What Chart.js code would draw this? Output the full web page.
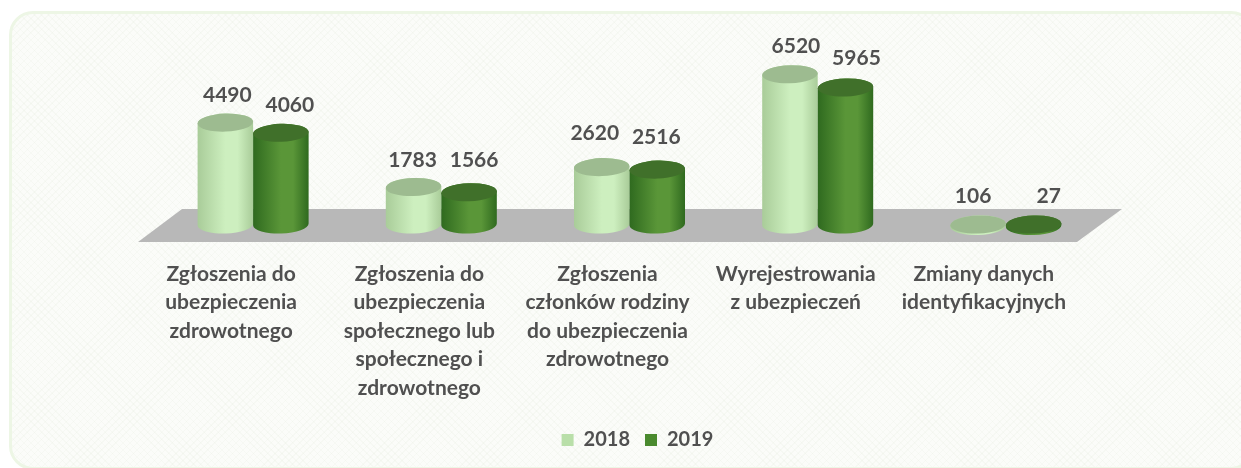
<!DOCTYPE html>
<html lang="pl">
<head>
<meta charset="utf-8">
<title>Zgłoszenia do ubezpieczenia</title>
<script src="https://cdn.jsdelivr.net/npm/chart.js@4"></script>
<style>
html,body{margin:0;padding:0;background:#fff;overflow:hidden}
#wrap{position:relative;width:1241px;height:468px;overflow:hidden}
#panel{position:absolute;left:9px;top:11px;width:1240px;height:453px;border:3px solid #edf6e5;border-radius:24px;
background-color:#fbfcf9;
background-image:repeating-linear-gradient(45deg,rgba(215,225,205,.13) 0 1px,transparent 1px 5px),repeating-linear-gradient(-45deg,rgba(215,225,205,.13) 0 1px,transparent 1px 5px)}
canvas{position:absolute;left:0;top:0;filter:blur(.45px)}
</style>
</head>
<body>
<div id="wrap"><div id="panel"></div><canvas id="c" width="1241" height="468"></canvas></div>
<script>
const categories = [
  ["Zgłoszenia do","ubezpieczenia","zdrowotnego"],
  ["Zgłoszenia do","ubezpieczenia","społecznego lub","społecznego i","zdrowotnego"],
  ["Zgłoszenia","członków rodziny","do ubezpieczenia","zdrowotnego"],
  ["Wyrejestrowania","z ubezpieczeń"],
  ["Zmiany danych","identyfikacyjnych"]
];
const values2018 = [4490, 1783, 2620, 6520, 106];
const values2019 = [4060, 1566, 2516, 5965, 27];
const seriesNames = ["2018", "2019"];
const legendColors = ["#b9dfa9", "#4a8a2e"];
const sideEdge = ["#a9cc99", "#2f6a1f"];
const sideMid = ["#cdefbf", "#5a9638"];
const topColors = ["#9dbb90", "#40702a"];
const textColor = "#505050";
const floorColor = "#b8b8b8";
const fontFamily = "Lato, 'Open Sans', sans-serif";

const ELLIPSE_RY = 9, TILT = -0.035, FOOT = 5;
const labelLift = [[27, 27, 34, 28, 28], [28, 32, 32, 29, 28]];
const labelShift = [[2, -1, -7, 6, -5], [9, 5, -1, 11, 15]];
const discY = (y, base) => Math.min(y, base - FOOT);

Chart.BarElement.prototype.draw = function (ctx) {
  const {x, y: rawY, base: rawBase, width} = this.getProps(["x", "y", "base", "width"]);
  const s = this.options.backgroundColor === legendColors[0] ? 0 : 1;
  const rx = width / 2;
  const base = rawBase - FOOT, y = discY(rawY, rawBase);
  const g = ctx.createLinearGradient(x - rx, 0, x + rx, 0);
  g.addColorStop(0, sideEdge[s]);
  g.addColorStop(0.5, sideMid[s]);
  g.addColorStop(0.72, sideMid[s]);
  g.addColorStop(1, sideEdge[s]);
  ctx.save();
  ctx.fillStyle = g;
  ctx.beginPath();
  ctx.ellipse(x, base + (y >= base ? 1.5 : 0), rx, ELLIPSE_RY, TILT, Math.PI, 0, true);
  ctx.lineTo(x + rx, y);
  ctx.ellipse(x, y, rx, ELLIPSE_RY, TILT, 0, Math.PI, true);
  ctx.closePath();
  ctx.fill();
  ctx.fillStyle = topColors[s];
  ctx.beginPath();
  ctx.ellipse(x, y, rx, ELLIPSE_RY, TILT, 0, Math.PI * 2);
  ctx.fill();
  ctx.restore();
};

const cylinderScene = {
  id: "cylinderScene",
  afterLayout(chart) {
    const l = chart.legend;
    l.left += 8; l.right += 8;
  },
  beforeDatasetsDraw(chart) {
    const {ctx, chartArea: a} = chart;
    const b = a.bottom;
    ctx.save();
    ctx.fillStyle = floorColor;
    ctx.beginPath();
    ctx.moveTo(a.left + 23, b - 20.5);
    ctx.lineTo(a.right + 22, b - 20.5);
    ctx.lineTo(a.right - 23, b + 12.5);
    ctx.lineTo(a.left - 21, b + 12.5);
    ctx.closePath();
    ctx.fill();
    ctx.restore();
  },
  beforeDatasetDraw(chart, args) {
    if (args.index === 1) return false;
  },
  afterDatasetDraw(chart, args) {
    if (args.index === 0) chart.getDatasetMeta(1).controller.draw();
  },
  afterDatasetsDraw(chart) {
    const {ctx} = chart;
    ctx.save();
    ctx.font = "bold 21px " + fontFamily;
    ctx.fillStyle = textColor;
    ctx.textAlign = "center";
    ctx.textBaseline = "middle";
    chart.data.datasets.forEach((ds, i) => {
      chart.getDatasetMeta(i).data.forEach((bar, j) => {
        ctx.fillText(String(ds.data[j]), bar.x + labelShift[i][j], discY(bar.y, bar.base) - labelLift[i][j]);
      });
    });
    ctx.restore();
  }
};

new Chart(document.getElementById("c"), {
  type: "bar",
  data: {
    labels: categories,
    datasets: [
      {label: seriesNames[0], data: values2018, backgroundColor: legendColors[0], clip: false},
      {label: seriesNames[1], data: values2019, backgroundColor: legendColors[1], clip: false}
    ]
  },
  options: {
    responsive: false,
    animation: false,
    events: [],
    layout: {padding: {left: 159, right: 141, top: 39, bottom: 8}},
    datasets: {bar: {barPercentage: 1, categoryPercentage: 0.59}},
    scales: {
      y: {display: false, min: 0, max: 8000},
      x: {
        grid: {display: false},
        border: {display: false},
        afterFit(scale) { scale.height = 185.5; },
        ticks: {
          autoSkip: false, maxRotation: 0, minRotation: 0, padding: 22, labelOffset: -22,
          color: textColor,
          font: {family: fontFamily, size: 21, weight: "bold", lineHeight: 1.36}
        }
      }
    },
    plugins: {
      tooltip: {enabled: false},
      legend: {
        position: "bottom",
        labels: {
          boxWidth: 12, boxHeight: 12, padding: 15, color: textColor,
          font: {family: fontFamily, size: 20, weight: "bold"}
        }
      }
    }
  },
  plugins: [cylinderScene]
});
</script>
</body>
</html>
